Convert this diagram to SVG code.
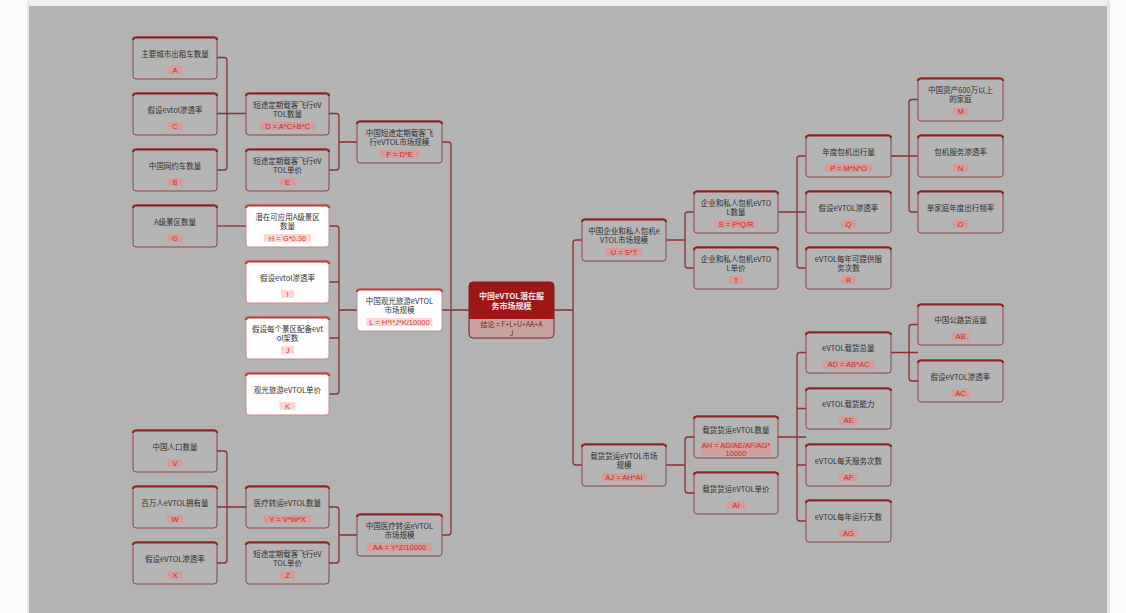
<svg xmlns="http://www.w3.org/2000/svg" width="1126" height="613" viewBox="0 0 1126 613">
<style>
.bgo{fill:#fcfcfc}
.panel{fill:#b3b3b3}
.n rect.b{fill:#b5b5b5;stroke:#8f4444;stroke-width:1}
.n path.top{fill:none;stroke:#8a2222;stroke-width:2.2}
.n text{font-family:"Noto Sans CJK SC","Noto Sans",sans-serif;font-size:7.5px;fill:#2e2e2e;text-anchor:middle;dominant-baseline:central}
.n rect.p{fill:#d59c9a}
.n text.pt{fill:#b8302a;font-family:"Liberation Sans","Noto Sans CJK SC",sans-serif}
.w rect.b{fill:#fdfdfd;stroke:#c98a8a}
.w path.top{stroke:#c23a3a}
.w rect.p{fill:#fbd8d6}
.w text{fill:#333}
.w text.pt{fill:#d8403a}
.c path{fill:none;stroke:#8b3030;stroke-width:1.3}
.r text{font-family:"Noto Sans CJK SC","Noto Sans",sans-serif;text-anchor:middle;dominant-baseline:central}
</style>
<rect class="bgo" x="0" y="0" width="1126" height="613"/>
<rect x="27" y="0" width="2" height="613" fill="#e8e8e8"/>
<rect x="29" y="0" width="1078" height="6" fill="#efefef"/>
<rect class="panel" x="29" y="6" width="1078" height="607"/>
<rect x="1107" y="0" width="3" height="613" fill="#e4e4e4"/>

<g class="c" id="connectors">
<path d="M217,57.5 H224 Q227,57.5 227,60.5 V167 Q227,170 224,170 H217 M217,113.5 H246"/>
<path d="M329,113.5 H336 Q339,113.5 339,116.5 V167 Q339,170 336,170 H329 M339,142 H357"/>
<path d="M217,226 H246"/>
<path d="M329,226 H336 Q339,226 339,229 V391 Q339,394 336,394 H329 M329,282 H339 M329,338 H339 M339,310 H357"/>
<path d="M217,451 H224 Q227,451 227,454 V560 Q227,563 224,563 H217 M217,507 H246"/>
<path d="M329,507 H336 Q339,507 339,510 V560 Q339,563 336,563 H329 M339,535 H357"/>
<path d="M442,142 H448 Q451,142 451,145 V532 Q451,535 448,535 H442 M442,310 H469"/>
<path d="M582,240 H576 Q573,240 573,243 V462 Q573,465 576,465 H582 M554,310 H573"/>
<path d="M694,212 H688 Q685,212 685,215 V265 Q685,268 688,268 H694 M666,240 H685"/>
<path d="M806,156 H800 Q797,156 797,159 V265 Q797,268 800,268 H806 M778,212 H806"/>
<path d="M918,99.5 H912 Q909,99.5 909,102.5 V209 Q909,212 912,212 H918 M891,156 H918"/>
<path d="M694,437 H688 Q685,437 685,440 V490 Q685,493 688,493 H694 M666,465 H685"/>
<path d="M806,352.5 H800 Q797,352.5 797,355.5 V518 Q797,521 800,521 H806 M778,437 H806 M797,408.5 H806 M797,465 H806"/>
<path d="M918,324.5 H912 Q909,324.5 909,327.5 V378 Q909,381 912,381 H918 M891,352.5 H918"/>
</g>

<!-- Left column 1 -->
<g class="n" id="nA" transform="translate(133,37)"><rect class="b" width="84" height="42" rx="3"/><path class="top" d="M0,3 Q0,0.5 3,0.5 H81 Q84,0.5 84,3"/><text x="42" y="16">主要城市出租车数量</text><rect class="p" x="34.5" y="29" width="15" height="8"/><text class="pt" x="42" y="33">A</text></g>
<g class="n" id="nC" transform="translate(133,93)"><rect class="b" width="84" height="42" rx="3"/><path class="top" d="M0,3 Q0,0.5 3,0.5 H81 Q84,0.5 84,3"/><text x="42" y="16">假设evtol渗透率</text><rect class="p" x="34.5" y="29" width="15" height="8"/><text class="pt" x="42" y="33">C</text></g>
<g class="n" id="nB" transform="translate(133,149)"><rect class="b" width="84" height="42" rx="3"/><path class="top" d="M0,3 Q0,0.5 3,0.5 H81 Q84,0.5 84,3"/><text x="42" y="16">中国网约车数量</text><rect class="p" x="34.5" y="29" width="15" height="8"/><text class="pt" x="42" y="33">B</text></g>
<g class="n" id="nG" transform="translate(133,205)"><rect class="b" width="84" height="42" rx="3"/><path class="top" d="M0,3 Q0,0.5 3,0.5 H81 Q84,0.5 84,3"/><text x="42" y="16">A级景区数量</text><rect class="p" x="34.5" y="29" width="15" height="8"/><text class="pt" x="42" y="33">G</text></g>
<g class="n" id="nV" transform="translate(133,430)"><rect class="b" width="84" height="42" rx="3"/><path class="top" d="M0,3 Q0,0.5 3,0.5 H81 Q84,0.5 84,3"/><text x="42" y="16">中国人口数量</text><rect class="p" x="34.5" y="29" width="15" height="8"/><text class="pt" x="42" y="33">V</text></g>
<g class="n" id="nW" transform="translate(133,486)"><rect class="b" width="84" height="42" rx="3"/><path class="top" d="M0,3 Q0,0.5 3,0.5 H81 Q84,0.5 84,3"/><text x="42" y="16">百万人eVTOL拥有量</text><rect class="p" x="34" y="29" width="16" height="8"/><text class="pt" x="42" y="33">W</text></g>
<g class="n" id="nX" transform="translate(133,542)"><rect class="b" width="84" height="42" rx="3"/><path class="top" d="M0,3 Q0,0.5 3,0.5 H81 Q84,0.5 84,3"/><text x="42" y="16">假设eVTOL渗透率</text><rect class="p" x="34.5" y="29" width="15" height="8"/><text class="pt" x="42" y="33">X</text></g>

<!-- Left column 2 -->
<g class="n" id="nD" transform="translate(246,93)"><rect class="b" width="83" height="42" rx="3"/><path class="top" d="M0,3 Q0,0.5 3,0.5 H80 Q83,0.5 83,3"/><text x="41.5" y="11.5">短途定期载客飞行eV</text><text x="41.5" y="20.5">TOL数量</text><rect class="p" x="13.5" y="29" width="56" height="8"/><text class="pt" x="41.5" y="33">D = A*C+B*C</text></g>
<g class="n" id="nE" transform="translate(246,149)"><rect class="b" width="83" height="42" rx="3"/><path class="top" d="M0,3 Q0,0.5 3,0.5 H80 Q83,0.5 83,3"/><text x="41.5" y="11.5">短途定期载客飞行eV</text><text x="41.5" y="20.5">TOL单价</text><rect class="p" x="34" y="29" width="15" height="8"/><text class="pt" x="41.5" y="33">E</text></g>
<g class="n w" id="nH" transform="translate(246,205)"><rect class="b" width="83" height="42" rx="3"/><path class="top" d="M0,3 Q0,0.5 3,0.5 H80 Q83,0.5 83,3"/><text x="41.5" y="11.5">潜在可应用A级景区</text><text x="41.5" y="20.5">数量</text><rect class="p" x="18" y="29" width="47" height="8"/><text class="pt" x="41.5" y="33">H = G*0.36</text></g>
<g class="n w" id="nI" transform="translate(246,261)"><rect class="b" width="83" height="42" rx="3"/><path class="top" d="M0,3 Q0,0.5 3,0.5 H80 Q83,0.5 83,3"/><text x="41.5" y="16">假设evtol渗透率</text><rect class="p" x="35" y="29" width="13" height="8"/><text class="pt" x="41.5" y="33">I</text></g>
<g class="n w" id="nJ" transform="translate(246,317)"><rect class="b" width="83" height="42" rx="3"/><path class="top" d="M0,3 Q0,0.5 3,0.5 H80 Q83,0.5 83,3"/><text x="41.5" y="11.5">假设每个景区配备evt</text><text x="41.5" y="20.5">ol架数</text><rect class="p" x="35" y="29" width="13" height="8"/><text class="pt" x="41.5" y="33">J</text></g>
<g class="n w" id="nK" transform="translate(246,373)"><rect class="b" width="83" height="42" rx="3"/><path class="top" d="M0,3 Q0,0.5 3,0.5 H80 Q83,0.5 83,3"/><text x="41.5" y="16">观光旅游eVTOL单价</text><rect class="p" x="33.5" y="29" width="16" height="8"/><text class="pt" x="41.5" y="33">K</text></g>
<g class="n" id="nY" transform="translate(246,486)"><rect class="b" width="83" height="42" rx="3"/><path class="top" d="M0,3 Q0,0.5 3,0.5 H80 Q83,0.5 83,3"/><text x="41.5" y="16">医疗转运eVTOL数量</text><rect class="p" x="18" y="29" width="47" height="8"/><text class="pt" x="41.5" y="33">Y = V*W*X</text></g>
<g class="n" id="nZ" transform="translate(246,542)"><rect class="b" width="83" height="42" rx="3"/><path class="top" d="M0,3 Q0,0.5 3,0.5 H80 Q83,0.5 83,3"/><text x="41.5" y="11.5">短途定期载客飞行eV</text><text x="41.5" y="20.5">TOL单价</text><rect class="p" x="34" y="29" width="15" height="8"/><text class="pt" x="41.5" y="33">Z</text></g>

<!-- Left column 3 -->
<g class="n" id="nF" transform="translate(357,121)"><rect class="b" width="85" height="42" rx="3"/><path class="top" d="M0,3 Q0,0.5 3,0.5 H82 Q85,0.5 85,3"/><text x="42.5" y="11.5">中国短途定期载客飞</text><text x="42.5" y="20.5">行eVTOL市场规模</text><rect class="p" x="23" y="29" width="39" height="8"/><text class="pt" x="42.5" y="33">F = D*E</text></g>
<g class="n w" id="nL" transform="translate(357,289)"><rect class="b" width="85" height="42" rx="3"/><path class="top" d="M0,3 Q0,0.5 3,0.5 H82 Q85,0.5 85,3"/><text x="42.5" y="11.5">中国观光旅游eVTOL</text><text x="42.5" y="20.5">市场规模</text><rect class="p" x="9.5" y="29" width="66" height="8"/><text class="pt" x="42.5" y="33">L = H*I*J*K/10000</text></g>
<g class="n" id="nAA" transform="translate(357,514)"><rect class="b" width="85" height="42" rx="3"/><path class="top" d="M0,3 Q0,0.5 3,0.5 H82 Q85,0.5 85,3"/><text x="42.5" y="11.5">中国医疗转运eVTOL</text><text x="42.5" y="20.5">市场规模</text><rect class="p" x="10" y="29" width="65" height="8"/><text class="pt" x="42.5" y="33">AA = Y*Z/10000</text></g>

<!-- Root -->
<g class="r" id="root" transform="translate(469,282)">
<path d="M0,37 V4 Q0,0 4,0 H81 Q85,0 85,4 V37 Z" fill="#9e1616"/>
<path d="M0,37 H85 V52 Q85,56 81,56 H4 Q0,56 0,52 Z" fill="#c7a2a1"/>
<rect x="0" y="0" width="85" height="56" rx="4" fill="none" stroke="#7e1a1a" stroke-width="1"/>
<text x="42.5" y="13" font-size="8" font-weight="bold" fill="#f6e6e6">中国eVTOL潜在服</text>
<text x="42.5" y="23" font-size="8" font-weight="bold" fill="#f6e6e6">务市场规模</text>
<text x="42.5" y="41.5" font-size="7" fill="#7a1c1c">结论 = F+L+U+AA+A</text>
<text x="42.5" y="51" font-size="7" fill="#7a1c1c">J</text>
</g>

<!-- Right column 1 -->
<g class="n" id="nU" transform="translate(582,219)"><rect class="b" width="84" height="42" rx="3"/><path class="top" d="M0,3 Q0,0.5 3,0.5 H81 Q84,0.5 84,3"/><text x="42" y="11.5">中国企业和私人包机e</text><text x="42" y="20.5">VTOL市场规模</text><rect class="p" x="24" y="29" width="36" height="8"/><text class="pt" x="42" y="33">U = S*T</text></g>
<g class="n" id="nAJ" transform="translate(582,444)"><rect class="b" width="84" height="42" rx="3"/><path class="top" d="M0,3 Q0,0.5 3,0.5 H81 Q84,0.5 84,3"/><text x="42" y="11.5">载货货运eVTOL市场</text><text x="42" y="20.5">规模</text><rect class="p" x="19" y="29" width="46" height="8"/><text class="pt" x="42" y="33">AJ = AH*AI</text></g>

<!-- Right column 2 -->
<g class="n" id="nS" transform="translate(694,191)"><rect class="b" width="84" height="42" rx="3"/><path class="top" d="M0,3 Q0,0.5 3,0.5 H81 Q84,0.5 84,3"/><text x="42" y="11.5">企业和私人包机eVTO</text><text x="42" y="20.5">L数量</text><rect class="p" x="20.5" y="29" width="43" height="8"/><text class="pt" x="42" y="33">S = P*Q/R</text></g>
<g class="n" id="nT" transform="translate(694,247)"><rect class="b" width="84" height="42" rx="3"/><path class="top" d="M0,3 Q0,0.5 3,0.5 H81 Q84,0.5 84,3"/><text x="42" y="11.5">企业和私人包机eVTO</text><text x="42" y="20.5">L单价</text><rect class="p" x="35" y="29" width="14" height="8"/><text class="pt" x="42" y="33">T</text></g>
<g class="n" id="nAH" transform="translate(694,416)"><rect class="b" width="84" height="42" rx="3"/><path class="top" d="M0,3 Q0,0.5 3,0.5 H81 Q84,0.5 84,3"/><text x="42" y="13">载货货运eVTOL数量</text><rect class="p" x="7" y="26" width="70" height="14"/><text class="pt" x="42" y="29.5">AH = AD/AE/AF/AG*</text><text class="pt" x="42" y="37">10000</text></g>
<g class="n" id="nAI" transform="translate(694,472)"><rect class="b" width="84" height="42" rx="3"/><path class="top" d="M0,3 Q0,0.5 3,0.5 H81 Q84,0.5 84,3"/><text x="42" y="16">载货货运eVTOL单价</text><rect class="p" x="33" y="29" width="18" height="8"/><text class="pt" x="42" y="33">AI</text></g>

<!-- Right column 3 -->
<g class="n" id="nP" transform="translate(806,135)"><rect class="b" width="85" height="42" rx="3"/><path class="top" d="M0,3 Q0,0.5 3,0.5 H82 Q85,0.5 85,3"/><text x="42.5" y="16">年度包机出行量</text><rect class="p" x="19" y="29" width="47" height="8"/><text class="pt" x="42.5" y="33">P = M*N*O</text></g>
<g class="n" id="nQ" transform="translate(806,191)"><rect class="b" width="85" height="42" rx="3"/><path class="top" d="M0,3 Q0,0.5 3,0.5 H82 Q85,0.5 85,3"/><text x="42.5" y="16">假设eVTOL渗透率</text><rect class="p" x="35" y="29" width="15" height="8"/><text class="pt" x="42.5" y="33">Q</text></g>
<g class="n" id="nR" transform="translate(806,247)"><rect class="b" width="85" height="42" rx="3"/><path class="top" d="M0,3 Q0,0.5 3,0.5 H82 Q85,0.5 85,3"/><text x="42.5" y="11.5">eVTOL每年可提供服</text><text x="42.5" y="20.5">务次数</text><rect class="p" x="35" y="29" width="15" height="8"/><text class="pt" x="42.5" y="33">R</text></g>
<g class="n" id="nAD" transform="translate(806,332)"><rect class="b" width="85" height="41" rx="3"/><path class="top" d="M0,3 Q0,0.5 3,0.5 H82 Q85,0.5 85,3"/><text x="42.5" y="15.5">eVTOL载货总量</text><rect class="p" x="16" y="28.5" width="53" height="8"/><text class="pt" x="42.5" y="32.5">AD = AB*AC</text></g>
<g class="n" id="nAE" transform="translate(806,388)"><rect class="b" width="85" height="41" rx="3"/><path class="top" d="M0,3 Q0,0.5 3,0.5 H82 Q85,0.5 85,3"/><text x="42.5" y="15.5">eVTOL载货能力</text><rect class="p" x="33" y="28.5" width="19" height="8"/><text class="pt" x="42.5" y="32.5">AE</text></g>
<g class="n" id="nAF" transform="translate(806,444)"><rect class="b" width="85" height="42" rx="3"/><path class="top" d="M0,3 Q0,0.5 3,0.5 H82 Q85,0.5 85,3"/><text x="42.5" y="16">eVTOL每天服务次数</text><rect class="p" x="33" y="29" width="19" height="8"/><text class="pt" x="42.5" y="33">AF</text></g>
<g class="n" id="nAG" transform="translate(806,500)"><rect class="b" width="85" height="42" rx="3"/><path class="top" d="M0,3 Q0,0.5 3,0.5 H82 Q85,0.5 85,3"/><text x="42.5" y="16">eVTOL每年运行天数</text><rect class="p" x="33" y="29" width="19" height="8"/><text class="pt" x="42.5" y="33">AG</text></g>

<!-- Right column 4 -->
<g class="n" id="nM" transform="translate(918,78)"><rect class="b" width="85" height="43" rx="3"/><path class="top" d="M0,3 Q0,0.5 3,0.5 H82 Q85,0.5 85,3"/><text x="42.5" y="11.5">中国资产600万以上</text><text x="42.5" y="20.5">的家庭</text><rect class="p" x="35" y="29.5" width="15" height="8"/><text class="pt" x="42.5" y="33.5">M</text></g>
<g class="n" id="nN" transform="translate(918,135)"><rect class="b" width="85" height="42" rx="3"/><path class="top" d="M0,3 Q0,0.5 3,0.5 H82 Q85,0.5 85,3"/><text x="42.5" y="16">包机服务渗透率</text><rect class="p" x="35" y="29" width="15" height="8"/><text class="pt" x="42.5" y="33">N</text></g>
<g class="n" id="nO" transform="translate(918,191)"><rect class="b" width="85" height="42" rx="3"/><path class="top" d="M0,3 Q0,0.5 3,0.5 H82 Q85,0.5 85,3"/><text x="42.5" y="16">单家庭年度出行频率</text><rect class="p" x="35" y="29" width="15" height="8"/><text class="pt" x="42.5" y="33">O</text></g>
<g class="n" id="nAB" transform="translate(918,304)"><rect class="b" width="85" height="41" rx="3"/><path class="top" d="M0,3 Q0,0.5 3,0.5 H82 Q85,0.5 85,3"/><text x="42.5" y="15.5">中国公路货运量</text><rect class="p" x="33.5" y="28.5" width="18" height="8"/><text class="pt" x="42.5" y="32.5">AB</text></g>
<g class="n" id="nAC" transform="translate(918,360)"><rect class="b" width="85" height="42" rx="3"/><path class="top" d="M0,3 Q0,0.5 3,0.5 H82 Q85,0.5 85,3"/><text x="42.5" y="16">假设eVTOL渗透率</text><rect class="p" x="33.5" y="29" width="18" height="8"/><text class="pt" x="42.5" y="33">AC</text></g>
</svg>
